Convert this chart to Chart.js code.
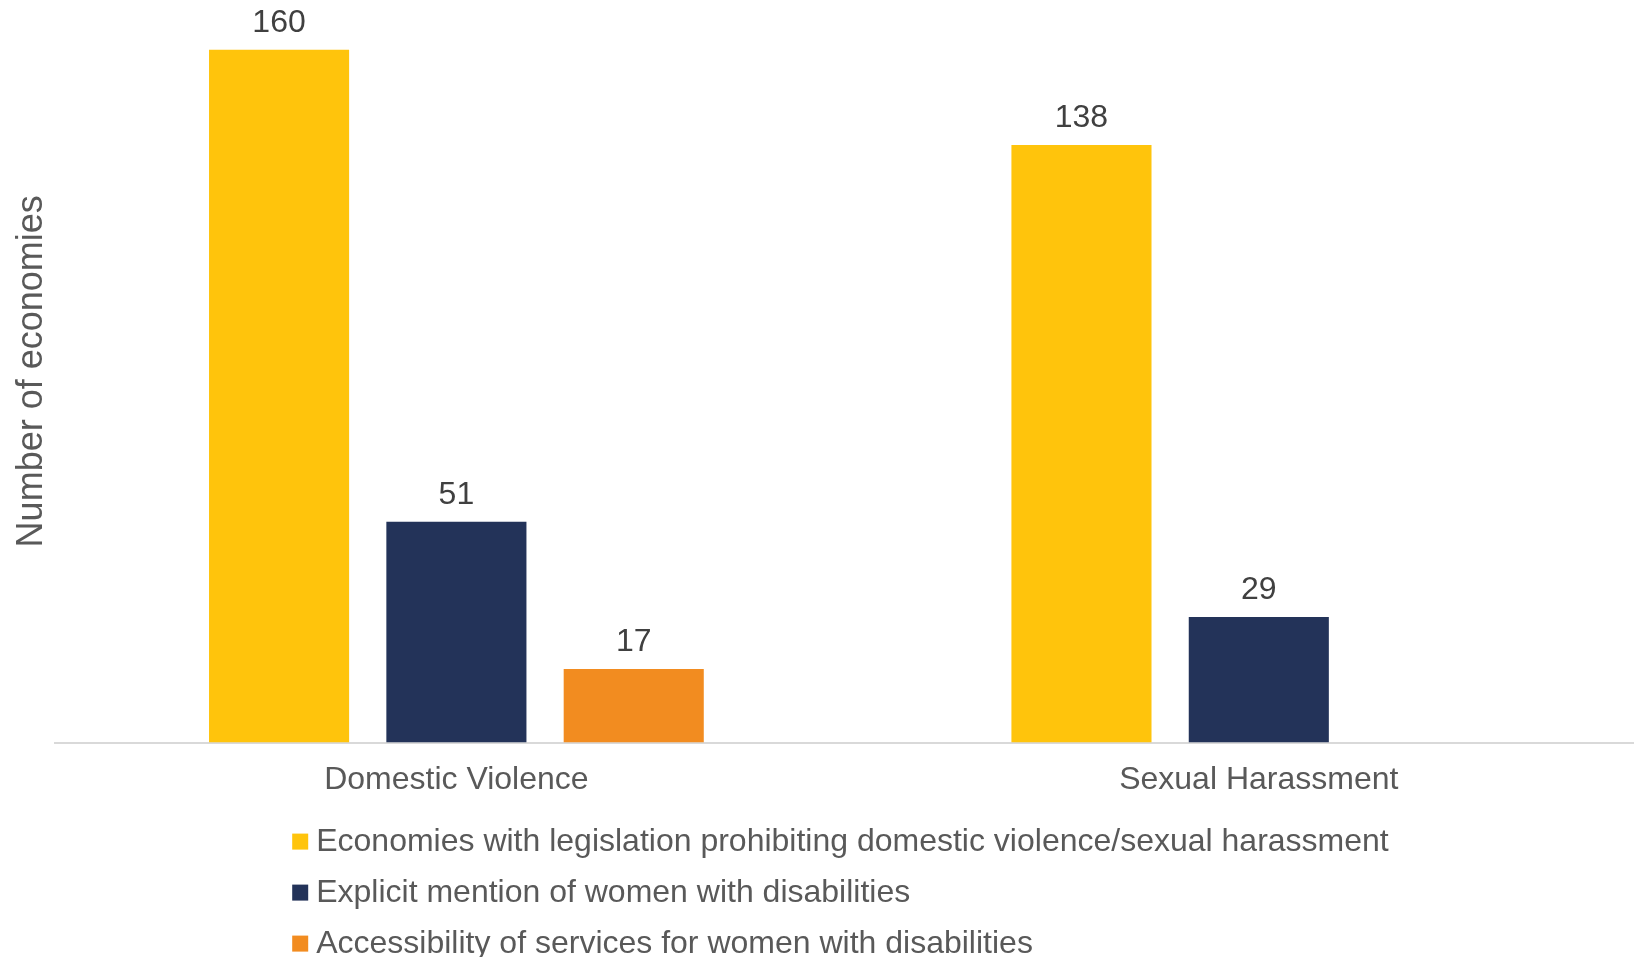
<!DOCTYPE html>
<html>
<head>
<meta charset="utf-8">
<script src="https://cdn.jsdelivr.net/npm/chart.js@4/dist/chart.umd.min.js"></script>
<style>
  html, body { margin: 0; padding: 0; background: #fff; overflow: hidden; }
  #wrap { width: 1634px; height: 957px; overflow: hidden; }
</style>
</head>
<body>
<div id="wrap"><canvas id="chart" width="1660" height="957"></canvas></div>
<script>
// donnees
const categories = ["Domestic Violence", "Sexual Harassment"];
const seriesNames = [
  "Economies with legislation prohibiting domestic violence/sexual harassment",
  "Explicit mention of women with disabilities",
  "Accessibility of services for women with disabilities"
];
const legislation = [160, 138];
const explicitMention = [51, 29];
const accessibility = [17, null];
const colors = ["#FFC40C", "#233359", "#F28C20"];

const FONT = "'Liberation Sans', Arial, sans-serif";

// etiquettes de valeur au-dessus des barres
const valueLabels = {
  id: "valueLabels",
  afterDatasetsDraw(chart) {
    const ctx = chart.ctx;
    ctx.save();
    ctx.font = "32px " + FONT;
    ctx.fillStyle = "#404040";
    ctx.textAlign = "center";
    ctx.textBaseline = "alphabetic";
    chart.data.datasets.forEach((ds, i) => {
      chart.getDatasetMeta(i).data.forEach((bar, j) => {
        const v = ds.data[j];
        if (v === null || v === undefined) return;
        ctx.fillText(String(v), bar.x, bar.y - 18);
      });
    });
    ctx.restore();
  }
};

// legende en colonne, alignee a gauche
const columnLegend = {
  id: "columnLegend",
  afterDraw(chart) {
    const ctx = chart.ctx;
    const area = chart.chartArea;
    const left = area.left + 237;
    let y = area.bottom + 99;
    ctx.save();
    ctx.font = "32px " + FONT;
    ctx.textBaseline = "middle";
    chart.data.datasets.forEach((ds) => {
      ctx.fillStyle = ds.backgroundColor;
      ctx.fillRect(left, y - 8, 16, 16);
      ctx.fillStyle = "#595959";
      ctx.fillText(ds.label, left + 24, y + 1);
      y += 51;
    });
    ctx.restore();
  }
};

document.addEventListener("DOMContentLoaded", function () {
  const ctx = document.getElementById("chart").getContext("2d");
  new Chart(ctx, {
    type: "bar",
    data: {
      labels: categories,
      datasets: [
        { label: seriesNames[0], data: legislation, backgroundColor: colors[0] },
        { label: seriesNames[1], data: explicitMention, backgroundColor: colors[1] },
        { label: seriesNames[2], data: accessibility, backgroundColor: colors[2] }
      ]
    },
    options: {
      responsive: false,
      animation: false,
      layout: { padding: { left: 6, top: 0, right: 0, bottom: 148 } },
      datasets: { bar: { barPercentage: 0.79, categoryPercentage: 0.663 } },
      plugins: {
        legend: { display: false },
        tooltip: { enabled: false }
      },
      scales: {
        x: {
          grid: { display: false },
          border: { display: true, color: "#D9D9D9", width: 2 },
          ticks: { color: "#595959", font: { family: FONT, size: 32 }, padding: 10 }
        },
        y: {
          min: 0,
          max: 171.5,
          grid: { display: false, drawTicks: false },
          border: { display: false },
          ticks: { display: false },
          title: {
            display: true,
            text: "Number of economies",
            color: "#595959",
            font: { family: FONT, size: 36 },
            padding: { top: 4, bottom: 2 }
          }
        }
      }
    },
    plugins: [valueLabels, columnLegend]
  });
});
</script>
</body>
</html>
